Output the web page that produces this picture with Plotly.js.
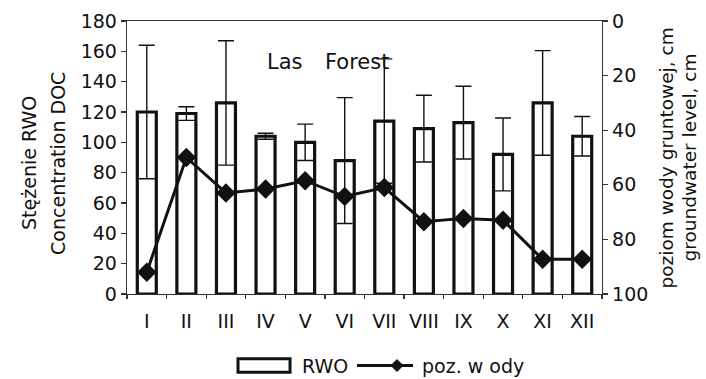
<!DOCTYPE html>
<html><head><meta charset="utf-8">
<script src="https://cdn.plot.ly/plotly-3.0.1.min.js"></script>
<style>html,body{margin:0;padding:0;background:#fff}</style>
</head><body>
<div id="chart" style="width:706px;height:379px"></div>
<script>
const months = ['I','II','III','IV','V','VI','VII','VIII','IX','X','XI','XII'];
const rwo = [120,119,126,104,100,88,114,109,113,92,126,104];
const rwoErr = [44,4.5,41,2,12,41.5,41,22,24,24,34.5,13];
const waterLevel = [92,50,63,61.5,58.5,64.3,61,73.5,72.3,73,87.3,87.3];
const leftTicks = [0,20,40,60,80,100,120,140,160,180];
const rightTicks = [0,20,40,60,80,100];
const boundaries = [-0.5,0.5,1.5,2.5,3.5,4.5,5.5,6.5,7.5,8.5,9.5,10.5,11.5];

const FONT = 'DejaVu Sans, Arial, sans-serif';
const INK = '#111';

const traces = [
  {
    type: 'bar', x: months, y: rwo, name: 'RWO',
    width: 0.48,
    marker: {color: '#fff', line: {color: INK, width: 3.2}},
    error_y: {type: 'data', array: rwoErr, visible: true, color: INK, thickness: 1.4, width: 8},
    showlegend: false, xaxis: 'x', yaxis: 'y'
  },
  {
    type: 'scatter', mode: 'lines+markers', x: months, y: waterLevel, name: 'poz. w ody',
    line: {color: INK, width: 3},
    marker: {symbol: 'diamond', size: 15, color: INK},
    showlegend: false, xaxis: 'x', yaxis: 'y2'
  }
];

const axFont = {family: FONT, size: 19, color: INK};
const layout = {
  width: 706, height: 379,
  margin: {l: 127, r: 104, t: 21, b: 85},
  paper_bgcolor: '#fff', plot_bgcolor: '#fff',
  showlegend: false,
  font: {family: FONT, color: INK},
  xaxis: {
    type: 'category', range: [-0.5, 11.5], showgrid: false, zeroline: false,
    showline: true, linecolor: '#333', linewidth: 1.3, mirror: true,
    ticks: 'outside', tickson: 'boundaries', ticklen: 4, tickcolor: '#333', tickwidth: 1.2,
    tickfont: axFont, ticklabelstandoff: 10
  },
  xaxis2: {
    overlaying: 'x', anchor: 'y', range: [-0.5, 11.5], showgrid: false, zeroline: false,
    showline: false, ticks: 'inside', ticklen: 4, tickcolor: '#333', tickwidth: 1.2,
    tickvals: boundaries, showticklabels: false
  },
  yaxis: {
    range: [0, 180], tickvals: leftTicks, showgrid: false, zeroline: false,
    showline: true, linecolor: '#333', linewidth: 1.3,
    ticks: 'outside', ticklen: 5, tickcolor: '#333', tickwidth: 1.2,
    tickfont: axFont
  },
  yaxis3: {
    overlaying: 'y', side: 'left', anchor: 'x', range: [0, 180], tickvals: leftTicks,
    showgrid: false, zeroline: false, showline: false,
    ticks: 'inside', ticklen: 5, tickcolor: '#333', tickwidth: 1.2, showticklabels: false
  },
  yaxis2: {
    overlaying: 'y', side: 'right', anchor: 'x', range: [100, 0], tickvals: rightTicks,
    showgrid: false, zeroline: false, showline: true, linecolor: '#333', linewidth: 1.3,
    ticks: 'outside', ticklen: 5, tickcolor: '#333', tickwidth: 1.2,
    tickfont: axFont
  },
  yaxis4: {
    overlaying: 'y', side: 'right', anchor: 'x', range: [100, 0], tickvals: rightTicks,
    showgrid: false, zeroline: false, showline: false,
    ticks: 'inside', ticklen: 5, tickcolor: '#333', tickwidth: 1.2, showticklabels: false
  },
  annotations: [
    {text: 'Stężenie RWO', xref: 'paper', yref: 'paper', x: -0.2063, y: 0.48, textangle: -90,
     showarrow: false, xanchor: 'center', yanchor: 'middle', font: {family: FONT, size: 19, color: INK}},
    {text: 'Concentration DOC', xref: 'paper', yref: 'paper', x: -0.1453, y: 0.48, textangle: -90,
     showarrow: false, xanchor: 'center', yanchor: 'middle', font: {family: FONT, size: 19, color: INK}},
    {text: 'poziom wody gruntowej, cm', xref: 'paper', yref: 'paper', x: 1.1368, y: 0.5, textangle: -90,
     showarrow: false, xanchor: 'center', yanchor: 'middle', font: {family: FONT, size: 18.5, color: INK}},
    {text: 'groundwater level, cm', xref: 'paper', yref: 'paper', x: 1.1832, y: 0.5, textangle: -90,
     showarrow: false, xanchor: 'center', yanchor: 'middle', font: {family: FONT, size: 18.5, color: INK}},
    {text: 'Las', xref: 'paper', yref: 'paper', x: 0.3316, y: 0.85, showarrow: false,
     xanchor: 'center', yanchor: 'middle', font: {family: FONT, size: 21, color: INK}},
    {text: 'Forest', xref: 'paper', yref: 'paper', x: 0.4832, y: 0.85, showarrow: false,
     xanchor: 'center', yanchor: 'middle', font: {family: FONT, size: 21, color: INK}},
    {text: 'RWO', xref: 'paper', yref: 'paper', x: 0.3642, y: -0.262, showarrow: false,
     xanchor: 'left', yanchor: 'middle', font: {family: FONT, size: 19, color: INK}},
    {text: 'poz. w ody', xref: 'paper', yref: 'paper', x: 0.6168, y: -0.262, showarrow: false,
     xanchor: 'left', yanchor: 'middle', font: {family: FONT, size: 19, color: INK}}
  ],
  shapes: [
    {type: 'rect', xref: 'paper', yref: 'paper', x0: 0.2337, x1: 0.3432, y0: -0.237, y1: -0.287,
     line: {color: INK, width: 3}, fillcolor: '#fff'},
    {type: 'line', xref: 'paper', yref: 'paper', x0: 0.4842, x1: 0.6021, y0: -0.262, y1: -0.262,
     line: {color: INK, width: 3}},
    {type: 'path', xref: 'paper', yref: 'paper',
     path: 'M 0.5558 -0.262 L 0.5684 -0.240 L 0.5810 -0.262 L 0.5684 -0.284 Z',
     fillcolor: INK, line: {color: INK, width: 1}}
  ]
};

Plotly.newPlot('chart', traces, layout, {staticPlot: true, displayModeBar: false});
</script>
</body></html>
